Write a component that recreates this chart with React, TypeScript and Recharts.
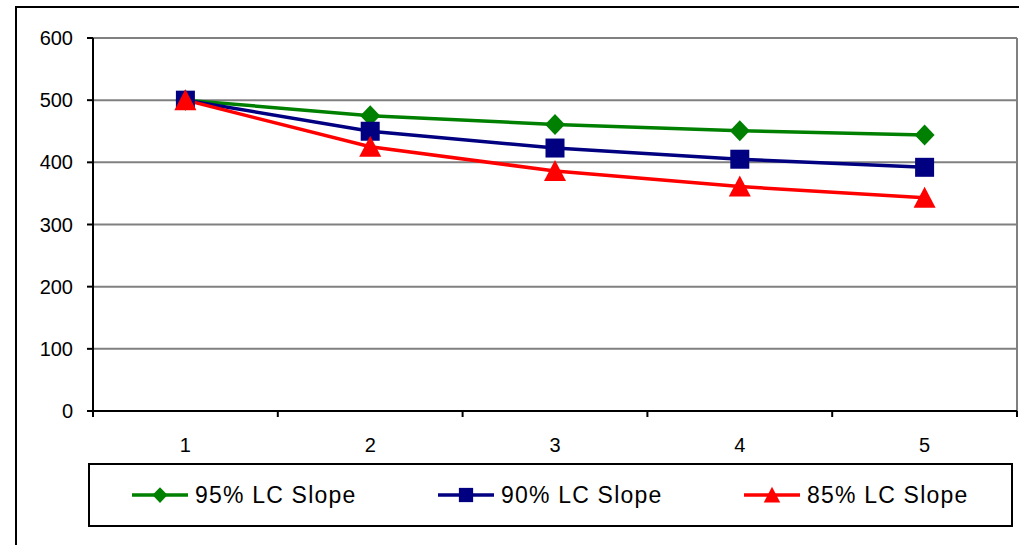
import React from 'react';
import { LineChart, Line, XAxis, YAxis, CartesianGrid, Legend, ReferenceLine } from 'recharts';

const categories = [1, 2, 3, 4, 5];
const slope95 = [500, 475, 461, 451, 444];
const slope90 = [500, 450, 423, 405, 392];
const slope85 = [500, 425, 386, 361, 343];
const yTicks = [0, 100, 200, 300, 400, 500, 600];
const boundaryTicks = [0.5, 1.5, 2.5, 3.5, 4.5, 5.5];

const seriesKeys = ['s95', 's90', 's85'];
const seriesNames = ['95% LC Slope', '90% LC Slope', '85% LC Slope'];
const seriesColors = ['#008000', '#000080', '#FF0000'];
const seriesShapes = ['diamond', 'square', 'triangle'];

const data = categories.map((c, i) => ({ x: c, s95: slope95[i], s90: slope90[i], s85: slope85[i] }));

const FONT = '"Liberation Sans", Arial, sans-serif';

function markerPath(shape: string, cx: number, cy: number, scale: number): string {
  if (shape === 'diamond') {
    const w = 10 * scale;
    const h = 10.5 * scale;
    return `M${cx},${cy - h}L${cx + w},${cy}L${cx},${cy + h}L${cx - w},${cy}Z`;
  }
  if (shape === 'square') {
    const s = 9.5 * scale;
    return `M${cx - s},${cy - s}L${cx + s},${cy - s}L${cx + s},${cy + s}L${cx - s},${cy + s}Z`;
  }
  const w = 11 * scale;
  return `M${cx},${cy - 11 * scale}L${cx + w},${cy + 10 * scale}L${cx - w},${cy + 10 * scale}Z`;
}

function makeDot(shape: string, color: string) {
  return (p: any) => {
    if (p.cx == null || p.cy == null) return <g key={`e-${p.index}`} />;
    return <path key={`${shape}-${p.index}`} d={markerPath(shape, p.cx, p.cy, 1)} fill={color} stroke="none" />;
  };
}

function LegendContent() {
  return (
    <div
      style={{
        boxSizing: 'border-box',
        width: 925,
        height: 64,
        border: '2px solid #000',
        background: '#fff',
        display: 'flex',
        alignItems: 'center',
        paddingLeft: 42,
        fontFamily: FONT,
        fontSize: 23,
        letterSpacing: 1.2,
        color: '#000',
      }}
    >
      {seriesNames.map((name, i) => (
        <div key={name} style={{ display: 'flex', alignItems: 'center', width: 306, flex: 'none' }}>
          <svg width={56} height={24} style={{ marginRight: 7, flex: 'none' }}>
            <line x1={0} y1={12} x2={56} y2={12} stroke={seriesColors[i]} strokeWidth={3.5} />
            <path d={markerPath(seriesShapes[i], 28, 12, 0.75)} fill={seriesColors[i]} />
          </svg>
          <span style={{ whiteSpace: 'nowrap' }}>{name}</span>
        </div>
      ))}
    </div>
  );
}

export default function App() {
  return (
    <div style={{ position: 'fixed', left: 0, top: 0, width: 1019, height: 545, overflow: 'hidden', background: '#fff' }}>
      <div
        style={{
          position: 'absolute',
          left: 15,
          top: 6,
          width: 1100,
          height: 700,
          border: '2px solid #000',
        }}
      />
      <div style={{ position: 'absolute', left: 0, top: 0 }}>
        <LineChart width={1019} height={545} data={data} margin={{ top: 38, right: 2, bottom: 18, left: 0 }}>
          <CartesianGrid vertical={false} stroke="#808080" strokeWidth={2} />
          <XAxis
            xAxisId={0}
            dataKey="x"
            type="number"
            domain={[0.5, 5.5]}
            ticks={boundaryTicks}
            tickFormatter={() => ''}
            height={1}
            tickSize={6}
            axisLine={{ stroke: '#000', strokeWidth: 2 }}
            tickLine={{ stroke: '#000', strokeWidth: 2 }}
            interval={0}
          />
          <XAxis
            xAxisId="lab"
            dataKey="x"
            type="number"
            domain={[0.5, 5.5]}
            ticks={categories}
            height={51}
            tickSize={0}
            tickMargin={26}
            axisLine={false}
            tickLine={false}
            interval={0}
            tick={{ fill: '#000', fontSize: 20, fontFamily: FONT }}
          />
          <YAxis
            domain={[0, 600]}
            ticks={yTicks}
            width={93}
            tickSize={6}
            tickMargin={14}
            interval={0}
            axisLine={{ stroke: '#000', strokeWidth: 2 }}
            tickLine={{ stroke: '#000', strokeWidth: 2 }}
            tick={{ fill: '#000', fontSize: 20, fontFamily: FONT }}
          />
          <ReferenceLine x={5.5} stroke="#808080" strokeWidth={2} />
          {seriesKeys.map((k, i) => (
            <Line
              key={k}
              dataKey={k}
              name={seriesNames[i]}
              stroke={seriesColors[i]}
              strokeWidth={3.5}
              dot={makeDot(seriesShapes[i], seriesColors[i])}
              activeDot={false}
              isAnimationActive={false}
            />
          ))}
          <Legend
            content={() => <LegendContent />}
            wrapperStyle={{ left: 88, width: 925, height: 64 }}
          />
        </LineChart>
      </div>
    </div>
  );
}
